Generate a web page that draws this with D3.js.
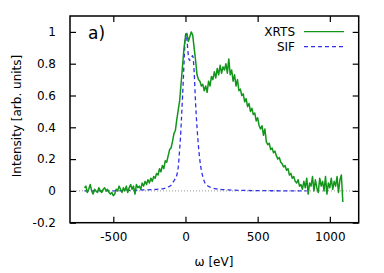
<!DOCTYPE html>
<html><head><meta charset="utf-8">
<script src="https://cdn.jsdelivr.net/npm/d3@7"></script>
<style>body{margin:0;background:#fff}svg{display:block}text{font-family:"DejaVu Sans",sans-serif;fill:#000}</style>
</head><body><svg id="c" width="384" height="273"></svg>
<script>
const xTicks = [-500, 0, 500, 1000];
const yTicks = [-0.2, 0, 0.2, 0.4, 0.6, 0.8, 1];
const xrtsEnergy = [-700,-690,-680,-670,-660,-650,-640,-630,-620,-610,-600,-590,-580,-570,-560,-550,-540,-530,-520,-510,
-500,-490,-480,-470,-460,-450,-440,-430,-420,-410,-400,-390,-380,-370,-360,-350,-340,-330,-320,-310,
-300,-290,-280,-270,-260,-250,-240,-230,-220,-210,-200,-190,-180,-170,-160,-150,-140,-130,-120,-110,
-100,-90,-80,-70,-60,-50,-40,-30,-20,-10,0,10,20,30,40,50,60,70,80,90,
100,110,120,130,140,150,160,170,180,190,200,210,220,230,240,250,260,270,280,290,
300,310,320,330,340,350,360,370,380,390,400,410,420,430,440,450,460,470,480,490,
500,510,520,530,540,550,560,570,580,590,600,610,620,630,640,650,660,670,680,690,
700,710,720,730,740,750,760,770,780,790,800,810,820,830,840,850,860,870,880,890,
900,910,920,930,940,950,960,970,980,990,1000,1010,1020,1030,1040,1050,1060,1070,1080,1090];
const xrtsIntensity = [0.02,0.03,-0.01,0.01,0.04,0.00,-0.02,0.01,0.00,-0.01,0.02,0.00,-0.01,0.01,0.02,0.00,0.01,-0.01,-0.02,-0.01,
-0.03,-0.02,0.01,0.00,0.03,0.01,-0.01,0.02,0.00,0.03,-0.01,0.02,0.04,0.01,0.03,-0.02,0.04,0.02,0.03,0.01,
0.05,0.03,0.06,0.04,0.07,0.05,0.08,0.06,0.09,0.08,0.11,0.10,0.14,0.12,0.16,0.14,0.19,0.18,0.22,0.26,
0.27,0.31,0.36,0.38,0.45,0.51,0.57,0.68,0.79,0.90,0.97,0.99,0.94,0.97,1.00,0.98,0.90,0.82,0.73,0.70,
0.69,0.66,0.67,0.63,0.66,0.62,0.69,0.66,0.72,0.70,0.75,0.71,0.77,0.73,0.79,0.74,0.78,0.76,0.80,0.74,
0.83,0.73,0.76,0.69,0.73,0.66,0.70,0.63,0.64,0.60,0.61,0.56,0.58,0.53,0.55,0.50,0.52,0.48,0.49,0.44,
0.46,0.41,0.39,0.41,0.35,0.39,0.31,0.29,0.30,0.26,0.27,0.24,0.25,0.22,0.20,0.21,0.18,0.17,0.15,0.16,
0.13,0.14,0.10,0.11,0.08,0.09,0.06,0.05,0.07,0.03,0.04,0.01,0.06,0.02,0.08,-0.02,0.05,0.03,0.09,0.00,
0.07,0.02,-0.01,0.08,0.03,0.06,0.00,0.09,-0.02,0.05,0.02,0.08,0.01,0.06,0.03,0.09,-0.01,0.07,0.10,-0.07];
const sifEnergy = [-700,-500,-400,-300,-200,-150,-120,-100,-90,-75,-60,-50,-42,-35,-28,-20,-14,-8,-3,0,5,10,20,28,40,50,60,70,80,90,100,110,120,130,150,180,220,300,400,600,840];
const sifIntensity = [0.0,0.0,0.003,0.006,0.01,0.015,0.025,0.035,0.05,0.07,0.10,0.15,0.24,0.33,0.45,0.60,0.72,0.85,0.95,0.98,0.99,0.95,0.85,0.82,0.84,0.85,0.75,0.55,0.40,0.28,0.19,0.13,0.09,0.06,0.035,0.02,0.012,0.006,0.003,0.001,0.0];

const svg = d3.select("#c");
const m = {l:70, t:16, r:358.7, b:222.7};
const x = d3.scaleLinear().domain([-800, 1200]).range([m.l, m.r]);
const y = d3.scaleLinear().domain([-0.2, 1.1]).range([m.b, m.t]);

// zero line
svg.append("line").attr("x1", x(-800)).attr("x2", x(1200)).attr("y1", y(0)).attr("y2", y(0))
  .attr("stroke", "#999").attr("stroke-width", 1).attr("stroke-dasharray", "1,2");

const line = d3.line().x(d => x(d[0])).y(d => y(d[1]));
svg.append("path").datum(sifEnergy.map((e,i)=>[e, sifIntensity[i]]))
  .attr("d", d3.line().x(d => x(d[0])).y(d => y(d[1])).curve(d3.curveMonotoneX))
  .attr("fill","none").attr("stroke","#3030e8").attr("stroke-width",1.3).attr("stroke-dasharray","4,3");
svg.append("path").datum(xrtsEnergy.map((e,i)=>[e, xrtsIntensity[i]]))
  .attr("d", line).attr("fill","none").attr("stroke","#12961a").attr("stroke-width",1.5).attr("stroke-linejoin","round");

// axes
const tl = 6;
const ax = svg.append("g").attr("transform", `translate(0,${m.b})`).call(d3.axisBottom(x).tickValues(xTicks).tickSizeInner(-tl).tickSizeOuter(0).tickPadding(10).tickFormat(d3.format("d")));
const axT = svg.append("g").attr("transform", `translate(0,${m.t})`).call(d3.axisTop(x).tickValues(xTicks).tickSizeInner(-tl).tickSizeOuter(0).tickFormat(""));
const ay = svg.append("g").attr("transform", `translate(${m.l},0)`).call(d3.axisLeft(y).tickValues(yTicks).tickSizeInner(-tl).tickSizeOuter(0).tickPadding(14).tickFormat(d => d3.format("")(+d.toFixed(1))));
const ayR = svg.append("g").attr("transform", `translate(${m.r},0)`).call(d3.axisRight(y).tickValues(yTicks).tickSizeInner(-tl).tickSizeOuter(0).tickFormat(""));
[ax, axT, ay, ayR].forEach(g => { g.select(".domain").remove(); g.selectAll("line").attr("stroke","#000").attr("stroke-width",1.2); g.selectAll("text").attr("font-size",12).attr("font-family","DejaVu Sans").attr("fill","#000"); });
ay.selectAll("text").text(function(){ return this.textContent.replace("−","-"); });
ax.selectAll("text").text(function(){ return this.textContent.replace("−","-"); });

svg.append("rect").attr("x", m.l).attr("y", m.t).attr("width", m.r-m.l).attr("height", m.b-m.t)
  .attr("fill","none").attr("stroke","#000").attr("stroke-width",1.5);

// labels
svg.append("text").attr("x", 214).attr("y", 266).attr("text-anchor","middle").attr("font-size",12).text("ω [eV]");
svg.append("text").attr("transform","translate(21,116) rotate(-90)").attr("text-anchor","middle").attr("font-size",12).text("Intensity [arb. units]");
svg.append("text").attr("x", 88).attr("y", 39).attr("font-size",17).text("a)");

// legend
svg.append("text").attr("x", 295).attr("y", 36).attr("text-anchor","end").attr("font-size",12).text("XRTS");
svg.append("line").attr("x1",304).attr("x2",344).attr("y1",31.7).attr("y2",31.7).attr("stroke","#12961a").attr("stroke-width",1.3);
svg.append("text").attr("x", 295).attr("y", 51).attr("text-anchor","end").attr("font-size",12).text("SIF");
svg.append("line").attr("x1",304).attr("x2",344).attr("y1",46.7).attr("y2",46.7).attr("stroke","#3030e8").attr("stroke-width",1.3).attr("stroke-dasharray","4,3");
</script></body></html>
